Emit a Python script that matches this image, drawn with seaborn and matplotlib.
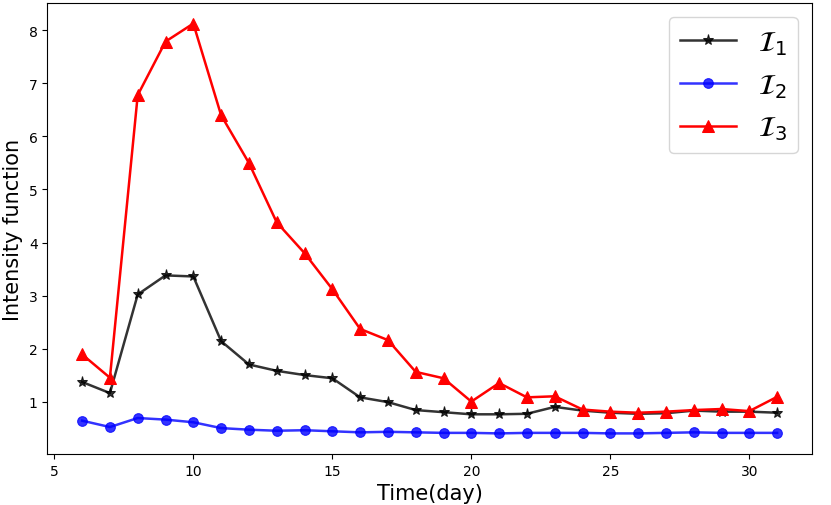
import matplotlib
matplotlib.use("Agg")
import matplotlib.pyplot as plt
import seaborn as sns
import pandas as pd

days = list(range(6, 32))
I1 = [1.37, 1.16, 3.02, 3.38, 3.36, 2.14, 1.70, 1.58, 1.50, 1.44, 1.08, 0.99, 0.84,
      0.80, 0.76, 0.76, 0.77, 0.90, 0.83, 0.79, 0.77, 0.78, 0.83, 0.81, 0.81, 0.79]
I2 = [0.64, 0.52, 0.69, 0.66, 0.61, 0.50, 0.47, 0.45, 0.46, 0.44, 0.42, 0.43, 0.42,
      0.41, 0.41, 0.40, 0.41, 0.41, 0.41, 0.40, 0.40, 0.41, 0.42, 0.41, 0.41, 0.41]
I3 = [1.89, 1.45, 6.78, 7.79, 8.13, 6.40, 5.50, 4.38, 3.80, 3.12, 2.37, 2.16, 1.56,
      1.44, 1.00, 1.35, 1.08, 1.10, 0.85, 0.81, 0.79, 0.81, 0.84, 0.86, 0.82, 1.09]
labels = [r"$\mathcal{I}_1$", r"$\mathcal{I}_2$", r"$\mathcal{I}_3$"]

df = pd.DataFrame({"day": days, "I1": I1, "I2": I2, "I3": I3})

fig, ax = plt.subplots(figsize=(8.31, 5.06), dpi=100)
fig.subplots_adjust(left=0.057, right=0.977, top=0.992, bottom=0.101)

sns.lineplot(data=df, x="day", y="I1", ax=ax, color="black", alpha=0.8,
             marker="*", markersize=8, markeredgecolor="black", linewidth=1.8, label=labels[0])
sns.lineplot(data=df, x="day", y="I2", ax=ax, color="blue", alpha=0.8,
             marker="o", markersize=7, markeredgecolor="blue", linewidth=1.8, label=labels[1])
sns.lineplot(data=df, x="day", y="I3", ax=ax, color="red",
             marker="^", markersize=8, markeredgecolor="red", linewidth=1.8, label=labels[2])

ax.set_xlabel("Time(day)", fontsize=15)
ax.set_ylabel("Intensity function", fontsize=15)
ax.set_xticks([5, 10, 15, 20, 25, 30])
ax.legend(loc="upper right", fontsize=20)

fig.savefig("out.png", dpi=100)
